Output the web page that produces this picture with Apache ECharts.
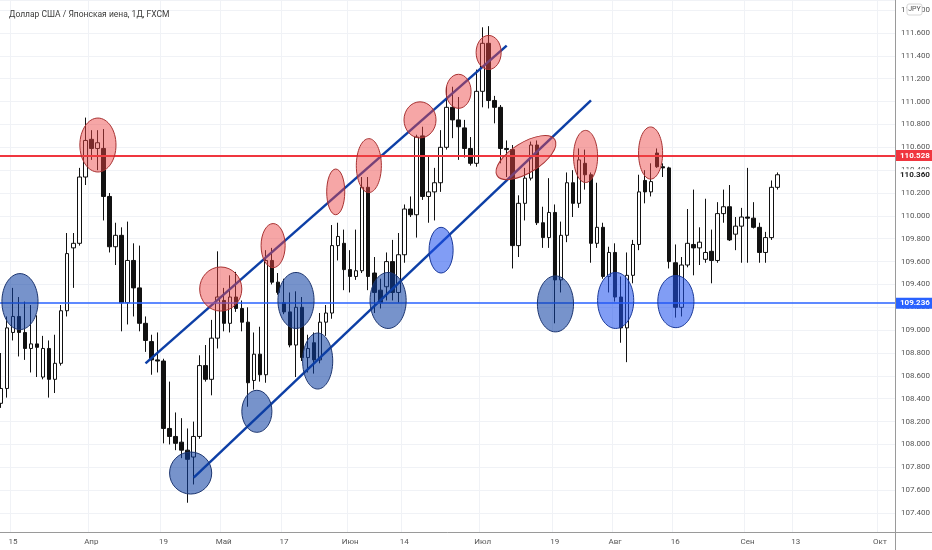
<!DOCTYPE html>
<html><head><meta charset="utf-8">
<script src="https://cdn.jsdelivr.net/npm/echarts@6/dist/echarts.min.js"></script>
<style>html,body{margin:0;padding:0;background:#fff}#c{width:932px;height:550px}</style>
</head><body><div id="c"></div>
<script>
// ---- data ----
const titleText = 'Доллар США / Японская иена, 1Д, FXCM';
const startDate = '2021-03-11';
const categoryCount = 149;
const tickLabels = [
  ['2021-03-15','15'],['2021-04-01','Апр'],['2021-04-19','19'],['2021-05-03','Май'],
  ['2021-05-17','17'],['2021-06-01','Июн'],['2021-06-14','14'],['2021-07-01','Июл'],
  ['2021-07-19','19'],['2021-08-02','Авг'],['2021-08-16','16'],['2021-09-01','Сен'],
  ['2021-09-13','13'],['2021-10-01','Окт']
];
// [open, close, low, high]
const candles = [
[108.36,108.49,108.32,108.80],[108.49,109.02,108.41,109.12],[108.98,109.12,108.91,109.37],[109.12,108.98,108.77,109.29],
[108.98,108.84,108.74,109.25],[108.84,108.88,108.63,109.22],[108.88,108.85,108.59,109.13],[108.59,108.84,108.57,108.95],
[108.84,108.57,108.41,108.91],[108.57,108.71,108.45,108.96],[108.71,109.17,108.69,109.22],[109.17,109.67,109.12,109.85],
[109.72,109.76,109.37,109.85],[109.76,110.34,109.74,110.42],[110.34,110.66,110.27,110.86],[110.67,110.59,110.49,110.75],
[110.59,110.64,110.40,110.75],[110.59,110.17,109.96,110.76],[110.17,109.73,109.68,110.20],[109.73,109.83,109.57,109.94],
[109.83,109.24,108.99,109.90],[109.24,109.61,109.05,109.95],[109.61,109.37,109.12,109.76],[109.37,109.06,108.99,109.74],
[109.06,108.91,108.81,109.12],[108.90,108.74,108.61,108.96],[108.74,108.73,108.63,108.98],[108.73,108.14,108.01,108.75],
[108.14,108.07,108.00,108.55],[108.07,108.01,107.95,108.28],[108.02,107.95,107.88,108.23],[107.95,107.87,107.49,108.14],
[107.89,108.07,107.65,108.20],[108.07,108.69,108.05,108.78],[108.69,108.57,108.55,108.87],[108.57,108.93,108.43,109.09],
[108.93,109.29,108.84,109.69],[109.26,109.06,108.99,109.37],[109.06,109.29,108.98,109.48],[109.29,109.19,109.16,109.51],
[109.19,109.07,108.99,109.26],[109.07,108.54,108.33,109.20],[108.56,108.79,108.48,108.98],[108.79,108.61,108.55,109.03],
[108.61,109.61,108.54,109.70],[109.61,109.42,109.40,109.72],[109.42,109.33,109.31,109.50],[109.24,109.16,109.14,109.45],
[109.16,108.87,108.85,109.33],[108.87,109.20,108.59,109.34],[109.20,108.76,108.73,109.29],[108.76,108.84,108.63,108.96],
[108.89,108.74,108.62,108.98],[108.74,109.07,108.71,109.15],[109.07,109.15,108.95,109.22],[109.15,109.74,109.10,109.92],
[109.74,109.82,109.61,109.94],[109.76,109.53,109.35,109.88],[109.53,109.47,109.33,109.70],[109.47,109.52,109.44,109.88],
[109.52,110.25,109.50,110.34],[110.25,109.47,109.35,110.34],[109.50,109.33,109.15,109.64],[109.35,109.24,109.19,109.45],
[109.38,109.60,109.26,109.68],[109.60,109.33,109.26,109.79],[109.33,109.66,109.24,109.85],[109.66,110.06,109.59,110.10],
[110.06,110.01,109.99,110.17],[110.01,110.69,109.81,110.71],[110.70,110.17,110.14,110.78],[110.17,110.21,109.94,110.53],
[110.21,110.29,109.96,110.42],[110.29,110.60,110.21,110.75],[110.60,110.95,110.58,111.13],[110.95,110.84,110.68,111.13],
[110.84,110.78,110.49,111.04],[110.77,110.59,110.51,110.84],[110.59,110.46,110.44,110.69],[110.46,111.09,110.43,111.28],
[111.09,111.51,110.95,111.65],[111.51,111.01,110.94,111.66],[111.01,110.95,110.81,111.05],[110.95,110.59,110.46,110.97],
[110.59,110.58,110.34,110.66],[110.58,109.74,109.54,110.62],[109.74,110.11,109.64,110.18],[110.11,110.33,109.96,110.42],
[110.33,110.62,110.31,110.65],[110.62,109.94,109.92,110.66],[109.94,109.81,109.72,110.08],[109.81,110.03,109.72,110.33],
[110.03,109.44,109.06,110.10],[109.44,109.83,109.33,109.95],[109.83,110.29,109.77,110.38],[110.29,110.11,109.99,110.40],
[110.11,110.49,110.07,110.59],[110.46,110.36,110.23,110.58],[110.36,109.76,109.59,110.38],[109.76,109.90,109.72,110.29],
[109.90,109.47,109.45,109.94],[109.47,109.68,109.33,109.73],[109.68,109.29,109.25,109.76],[109.29,109.02,108.89,109.47],
[109.02,109.48,108.72,109.68],[109.48,109.75,109.41,109.79],[109.75,110.21,109.70,110.36],[110.31,110.21,110.11,110.40],
[110.21,110.30,110.17,110.46],[110.55,110.43,110.42,110.59],[110.43,110.42,110.34,110.46],[110.42,109.60,109.54,110.43],
[109.59,109.20,109.11,109.75],[109.20,109.57,109.12,109.64],[109.57,109.76,109.55,110.06],[109.75,109.72,109.48,110.23],
[109.72,109.77,109.57,109.90],[109.62,109.68,109.59,110.15],[109.69,109.61,109.41,109.88],[109.61,110.02,109.59,110.12],
[110.02,110.08,109.94,110.23],[110.08,109.79,109.78,110.27],[109.84,109.91,109.70,109.99],[109.91,109.99,109.59,110.07],
[109.99,109.98,109.59,110.42],[109.98,109.90,109.89,110.12],[109.90,109.68,109.59,109.94],[109.68,109.81,109.59,109.86],
[109.81,110.25,109.79,110.31],[110.25,110.36,110.23,110.38]
];
const resistance = 110.528;
const support = 109.236;
const yMin = 107.234, yMax = 111.889;
// trend lines: [barIndex, price]
const upperTrend = [[24,108.71],[84,111.49]];
const lowerTrend = [[32,107.71],[98,111.01]];
// zones: [centerBarIndex, centerPrice, halfWidthBars, halfHeightPrice, tiltDeg]
const redZones = [
  [16.1,110.62,3.0,0.236,0],[36.5,109.36,3.5,0.193,0],[45.2,109.74,2.0,0.193,0],
  [55.6,110.21,1.5,0.20,0],[61.1,110.44,2.08,0.236,0],[69.6,110.84,2.66,0.158,0],
  [76.0,111.09,2.08,0.149,0],[81.0,111.43,2.08,0.149,0],[87.2,110.51,5.65,0.131,32],
  [97.1,110.52,2.0,0.228,0],[107.9,110.55,2.0,0.228,0]
];
const blueZones = [
  [3.15,109.25,3.0,0.245,0],[31.5,107.75,3.5,0.184,0],[42.5,108.29,2.5,0.184,0],
  [49.0,109.26,3.0,0.245,0],[52.6,108.73,2.5,0.245,0],[64.3,109.26,3.0,0.245,0],
  [92.1,109.23,3.0,0.245,0]
];
const brightBlueZones = [
  [73.1,109.70,2.0,0.20,0],[102.1,109.26,3.0,0.245,0],[112.1,109.25,3.0,0.228,0]
];

// ---- build ----
const categories = [];
(function(){
  const d = new Date(startDate + 'T00:00:00Z');
  while (categories.length < categoryCount) {
    const wd = d.getUTCDay();
    if (wd !== 0 && wd !== 6) categories.push(d.toISOString().slice(0,10));
    d.setUTCDate(d.getUTCDate() + 1);
  }
})();
const labelMap = {};
tickLabels.forEach(t => { labelMap[t[0]] = t[1]; });
const showTick = (i, v) => labelMap[v] !== undefined;
const lastClose = candles[candles.length - 1][1];

function zoneSeries(list, fill, stroke) {
  return {
    type: 'custom', z: 6, silent: true, clip: false,
    data: list.map(z => [Math.round(z[0]), z[1]]),
    renderItem: function(params, api) {
      const z = list[params.dataIndex];
      const base = api.coord([0, z[1]]);
      const bw = api.size([1, 0])[0];
      const cx = base[0] + z[0] * bw;
      const rx = z[2] * bw;
      const ry = api.size([0, z[3]])[1];
      return {
        type: 'ellipse', x: cx, y: base[1], rotation: z[4] * Math.PI / 180,
        shape: { cx: 0, cy: 0, rx: rx, ry: ry },
        style: { fill: fill, stroke: stroke, lineWidth: 1 }
      };
    }
  };
}

const font = 'Roboto, "Liberation Sans", sans-serif';
function priceLabel(value, bg, fg) {
  return { position: 'end', distance: 1, formatter: () => value.toFixed(3), backgroundColor: bg, color: fg,
           fontWeight: 'bold', fontSize: 8, padding: [2, 4, 1, 4], fontFamily: font };
}
const chart = echarts.init(document.getElementById('c'), null, { renderer: 'canvas' });
chart.setOption({
  animation: false,
  backgroundColor: '#ffffff',
  title: { text: titleText, left: 4, top: 5, textStyle: { fontSize: 8.5, fontWeight: 'normal', color: '#3a3a3a', fontFamily: font } },
  grid: { left: -2, right: 37, top: 0, bottom: 18, containLabel: false, outerBoundsMode: 'none' },
  xAxis: {
    type: 'category', data: categories, boundaryGap: true,
    axisLine: { show: true, lineStyle: { color: '#9a9a9a', width: 1 } },
    axisTick: { show: false },
    axisLabel: { interval: showTick, formatter: v => labelMap[v] || '', fontSize: 8, color: '#555', margin: 6, fontFamily: font },
    splitLine: { show: true, interval: showTick, lineStyle: { color: '#f0f2f6', width: 1 } }
  },
  yAxis: {
    type: 'value', position: 'right', scale: true, min: yMin, max: yMax,
    splitNumber: 23, minInterval: 0.2, maxInterval: 0.2,
    axisLine: { show: true, lineStyle: { color: '#9a9a9a', width: 1 } },
    axisTick: { show: false },
    axisLabel: { formatter: v => v.toFixed(3), fontSize: 8, color: '#555', margin: 6, showMinLabel: false, showMaxLabel: false, fontFamily: font },
    splitLine: { show: true, lineStyle: { color: '#f0f2f6', width: 1 } }
  },
  series: [
    {
      type: 'candlestick', data: candles, barWidth: 4, z: 2,
      itemStyle: { color: '#ffffff', color0: '#111111', borderColor: '#111111', borderColor0: '#111111', borderWidth: 1 },
      markLine: {
        symbol: 'none', silent: true, animation: false, precision: 3,
        data: [
          { yAxis: resistance, lineStyle: { color: '#f0363f', width: 2, type: 'solid' }, label: priceLabel(resistance, '#f0363f', '#fff') },
          { yAxis: support, lineStyle: { color: '#2962ff', width: 1.5, type: 'solid' }, label: priceLabel(support, '#2962ff', '#fff') },
          { yAxis: lastClose, lineStyle: { color: 'rgba(0,0,0,0)', width: 0 }, label: priceLabel(lastClose, '#ffffff', '#222') }
        ]
      }
    },
    { type: 'line', data: upperTrend, symbol: 'none', z: 4, silent: true, lineStyle: { color: '#0d3fa6', width: 2.5 } },
    { type: 'line', data: lowerTrend, symbol: 'none', z: 4, silent: true, lineStyle: { color: '#0d3fa6', width: 2.5 } },
    zoneSeries(redZones, 'rgba(236,70,70,0.48)', '#a83232'),
    zoneSeries(blueZones, 'rgba(13,63,163,0.56)', '#1d3670'),
    zoneSeries(brightBlueZones, 'rgba(30,80,238,0.56)', '#1b3a9a')
  ],
  graphic: [
    { type: 'line', z: 10, shape: { x1: 895.5, y1: 532, x2: 895.5, y2: 550 }, style: { stroke: '#9a9a9a', lineWidth: 1 } },
    { type: 'line', z: 10, shape: { x1: 895, y1: 532.5, x2: 932, y2: 532.5 }, style: { stroke: '#9a9a9a', lineWidth: 1 } },
    { type: 'rect', z: 10, shape: { x: 907, y: 4, width: 15, height: 11, r: 2 }, style: { fill: '#fff', stroke: '#d6d6d6', lineWidth: 1 } },
    { type: 'text', z: 11, x: 914.5, y: 9.5, style: { text: 'JPY', fontSize: 7, fill: '#555', align: 'center', verticalAlign: 'middle', fontFamily: font } }
  ]
});
</script>
</body></html>
